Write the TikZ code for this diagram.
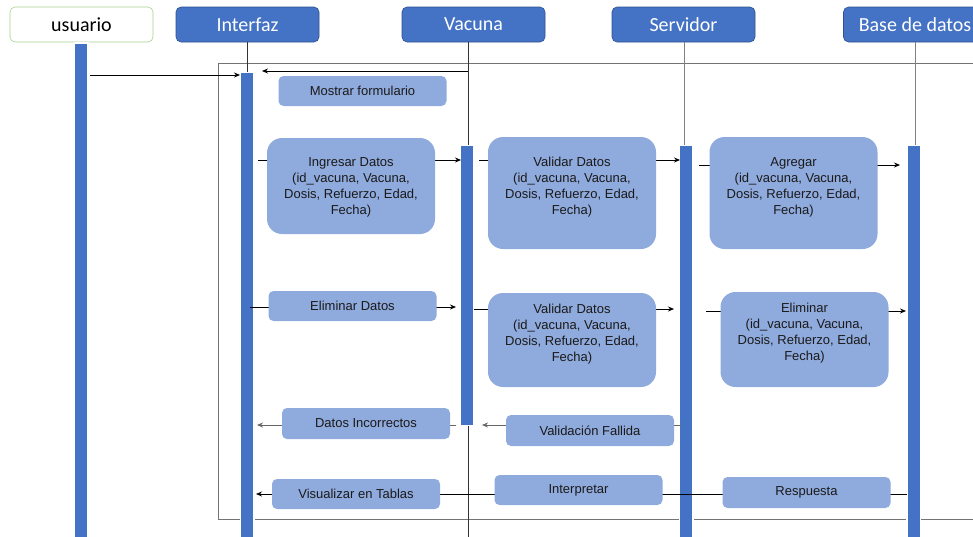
\documentclass[tikz,border=0pt]{standalone}
\usepackage{fontspec}
\setmainfont{Liberation Sans}
\newfontfamily\headfont{Carlito}
\usetikzlibrary{arrows.meta}

\definecolor{barblue}{HTML}{4472C4}
\definecolor{headedge}{HTML}{2F528F}
\definecolor{msgfill}{HTML}{8FAADC}
\definecolor{useredge}{HTML}{A9D18E}
\definecolor{txtgray}{HTML}{1A1A1A}

\begin{document}
\begin{tikzpicture}[x=1pt, y=-1pt,
	head/.style={draw=headedge, fill=barblue, text=white, rounded corners=5pt, line width=0.6pt,
		minimum width=143pt, minimum height=35pt, inner sep=0pt, font=\headfont\fontsize{20}{24}\selectfont},
	actbar/.style={draw=white, line width=1.5pt, fill=barblue, minimum width=13.5pt, inner sep=0pt, anchor=north},
	life/.style={line width=0.8pt, draw=black!80},
	lbl/.style={fill=msgfill, rounded corners=5pt, minimum width=168pt, minimum height=30pt, inner sep=0pt,
		text=txtgray, font=\fontsize{13}{16}\selectfont},
	biglbl/.style={lbl, rounded corners=15pt},
	lbltxt/.style={anchor=north, inner sep=0pt, align=center, text=txtgray, font=\fontsize{13}{16}\selectfont},
	msg/.style={line width=0.75pt, -{Stealth[length=6pt, width=5pt]}}
]

\def\hy{24.5}
\def\bot{545}

\useasboundingbox (0,0) rectangle (973,536);

% FRAME
\draw [line width=0.9pt, draw=black!55] (218,63) rectangle (995,519);

% HEADS
\node [head, draw=useredge, fill=white, text=black] (hU) at (81.5,\hy) {usuario};
\node [head] (hI) at (247.5,\hy) {Interfaz};
\node [head] (hV) at (473.5,\hy) {Vacuna};
\node [head] (hS) at (683.5,\hy) {Servidor};
\node [head] (hB) at (915,\hy) {Base de datos};

% LIFELINES
\coordinate (lV) at (468,\bot);
\draw [life] (lV |- hV.south) -- (lV);
\node [actbar, minimum height=510pt] (bU) at (81,42) {};
\node [actbar, minimum height=480pt] (bI) at (247,71.5) {};
\node [actbar, minimum height=280pt] (bV) at (467,144.5) {};
\node [actbar, minimum height=400pt] (bS) at (686,144.5) {};
\node [actbar, minimum height=400pt] (bB) at (913.5,144.5) {};
\draw [life] (hI.south) -- (hI.south |- bI.north);
\draw [life, draw=black!50] (684,42) coordinate (lS) -- (lS |- bS.north);
\draw [life, draw=black!50] (hB.south) -- (hB.south |- bB.north);

% MESSAGES
\coordinate (m1a) at (90,75);    \coordinate (m1b) at (240,75);
\coordinate (m2a) at (468,71);   \coordinate (m2b) at (262,71);
\coordinate (m3a) at (258,160);  \coordinate (m3b) at (461,160);
\coordinate (m4a) at (479,160);  \coordinate (m4b) at (680,160);
\coordinate (m5a) at (699,165);  \coordinate (m5b) at (900,165);
\coordinate (m6a) at (250,307);  \coordinate (m6b) at (456,307);
\coordinate (m7a) at (474,309);  \coordinate (m7b) at (674,309);
\coordinate (m8a) at (706,311);  \coordinate (m8b) at (906,311);
\coordinate (m9a) at (456,425);  \coordinate (m9b) at (257,425);
\coordinate (m10a) at (681,425); \coordinate (m10b) at (482,425);
\coordinate (m11a) at (907,494); \coordinate (m11b) at (256,494);
\draw [msg] (m1a) -- (m1b);
\draw [msg] (m2a) -- (m2b);
\draw [msg] (m3a) -- (m3b);
\draw [msg] (m4a) -- (m4b);
\draw [msg] (m5a) -- (m5b);
\draw [msg] (m6a) -- (m6b);
\draw [msg] (m7a) -- (m7b);
\draw [msg] (m8a) -- (m8b);
\draw [msg, draw=black!60] (m9a) -- (m9b);
\draw [msg, draw=black!60] (m10a) -- (m10b);
\draw [msg] (m11a) -- (m11b);

% LABELS
\node [lbl] (mostrar) at (362.5,91) {Mostrar formulario};

\node [biglbl, minimum height=96pt] (ingr) at (351,186) {};
\node [lbltxt] (ingrT) at ([yshift=-20pt]ingr.north) {Ingresar Datos\\(id\_vacuna, Vacuna,\\Dosis, Refuerzo, Edad,\\Fecha)};
\node [biglbl, minimum height=112pt] (val1) at (572,193) {};
\node [lbltxt] (val1T) at ([yshift=-20pt]val1.north) {Validar Datos\\(id\_vacuna, Vacuna,\\Dosis, Refuerzo, Edad,\\Fecha)};
\node [biglbl, minimum height=112pt] (agr) at (793.5,193) {};
\node [lbltxt] (agrT) at ([yshift=-21pt]agr.north) {Agregar\\(id\_vacuna, Vacuna,\\Dosis, Refuerzo, Edad,\\Fecha)};

\node [lbl] (elimD) at (352.5,306) {Eliminar Datos};
\node [biglbl, minimum height=94pt] (val2) at (572,340) {};
\node [lbltxt] (val2T) at ([yshift=-11pt]val2.north) {Validar Datos\\(id\_vacuna, Vacuna,\\Dosis, Refuerzo, Edad,\\Fecha)};
\node [biglbl, minimum height=95pt] (elim) at (804.5,339.5) {};
\node [lbltxt] (elimT) at ([yshift=-11pt]elim.north) {Eliminar\\(id\_vacuna, Vacuna,\\Dosis, Refuerzo, Edad,\\Fecha)};

\node [lbl, minimum height=31pt] (incor) at (366,423.5) {Datos Incorrectos};
\node [lbl, minimum height=31pt] (fall) at (590,430.5) {Validación Fallida};

\node [lbl] (visu) at (356,494) {Visualizar en Tablas};
\node [lbl] (interp) at (578.5,490) {Interpretar};
\node [lbl, minimum height=31pt] (resp) at (806.5,492.5) {Respuesta};

\end{tikzpicture}
\end{document}
